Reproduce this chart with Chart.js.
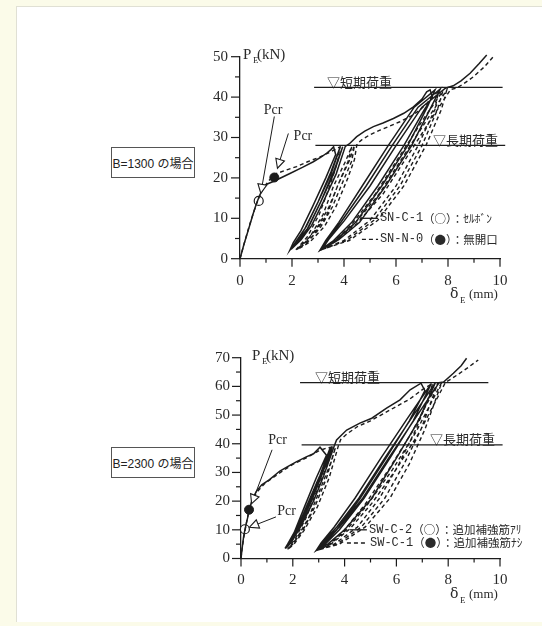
<!DOCTYPE html>
<html><head><meta charset="utf-8">
<script src="https://cdn.jsdelivr.net/npm/chart.js@4.4.1/dist/chart.umd.min.js"></script>
<style>
html,body{margin:0;padding:0;background:#fbfbe9;}
#wrap{position:relative;width:542px;height:626px;overflow:hidden;}
#panel{position:absolute;left:16px;top:6px;width:526px;height:615px;background:#fff;border-left:1px solid #e0e0d4;border-top:1px solid #e0e0d4;}
canvas{position:absolute;left:0;top:0;}
.tag{position:absolute;border:1px solid #555;background:#fff;font:12px "Liberation Sans","Noto Sans CJK JP",sans-serif;color:#222;display:flex;align-items:center;justify-content:center;box-sizing:border-box;white-space:nowrap;}
</style></head><body>
<div id="wrap"><div id="panel"></div>
<div class="tag" style="left:111px;top:147px;width:84px;height:31px;">B=1300 の場合</div>
<div class="tag" style="left:111px;top:447px;width:84px;height:31px;">B=2300 の場合</div>
<canvas id="c1" width="542" height="626"></canvas>
<canvas id="c2" width="542" height="626"></canvas>
</div>
<script>
// ---------- data ----------
const xTicks = [0,1,2,3,4,5,6,7,8,9,10];
const xLabels = ['0','','2','','4','','6','','8','','10'];
const yTicksTop = [0,5,10,15,20,25,30,35,40,45,50];
const yTicksBot = [0,5,10,15,20,25,30,35,40,45,50,55,60,65,70];

// B=1300 : SN-C-1 (solid, ○ セルボン) / SN-N-0 (dashed, ● 無開口)
const snc1 = [[0,0],[0.15,3.5],[0.32,7.1],[0.5,11],[0.64,13.8],[0.78,16],[0.9,17.6],[1.05,18.5],[1.28,19.1],[1.6,20.1],[1.92,21.1],[2.4,22.6],[2.82,24],[3.1,25.1],[3.33,26.1],[3.5,27],[3.6,27.7],[3.68,25.8],
[3.3,20],[2.8,13],[2.35,7],[2.05,4],[1.92,2.15],
[2.2,4.5],[2.55,8],[3.0,14],[3.5,21],[3.85,27.6],
[3.5,21.5],[3.0,14],[2.5,7.5],[2.15,4.2],[1.95,2.3],
[2.3,4.6],[2.65,8],[3.1,14],[3.6,21],[3.95,27.7],
[3.6,21.5],[3.1,14],[2.6,7.5],[2.2,4.3],[1.98,2.4],
[2.35,4.7],[2.75,8.2],[3.2,14],[3.7,21],[4.05,27.8],
[4.2,28.4],[4.49,30.2],[4.8,31.6],[5.13,32.7],[5.5,33.6],[5.9,34.7],[6.3,36],[6.67,37.6],[7.0,39.5],[7.18,41.3],[7.31,41.8],[7.4,39.9],
[7.1,37],[6.3,28],[5.3,18],[4.3,9],[3.6,4.5],[3.08,2.15],
[3.3,4.5],[3.8,9],[4.7,18],[5.7,28],[6.7,37.5],[7.5,41.8],
[7.2,37.5],[6.45,28],[5.45,18],[4.45,9],[3.7,4.6],[3.12,2.3],
[3.35,4.6],[3.9,9.2],[4.85,18],[5.85,28],[6.85,37.5],[7.7,42],
[7.35,37.5],[6.6,28],[5.6,18],[4.6,9],[3.8,4.7],[3.16,2.4],
[3.4,4.7],[4.0,9.3],[5.0,18],[6.0,28],[7.0,37.5],[7.9,42.2],
[8.2,42.8],[8.5,44],[8.85,45.9],[9.2,48.3],[9.49,50.4]];
const snn0 = [[0,0],[0.15,3.5],[0.35,8],[0.55,12],[0.75,15.5],[0.95,18],[1.15,19.6],[1.41,21.1],[1.8,22],[2.18,22.8],[2.6,24],[3.08,25.2],[3.5,26.5],[3.85,27.7],
[3.75,24],[3.45,18],[3.05,11],[2.6,5.5],[2.15,2.2],
[2.5,4],[2.95,7.5],[3.4,12.5],[3.85,19.5],[4.15,24],[4.3,27.8],
[4.05,24],[3.6,18],[3.2,11],[2.7,5.5],[2.2,2.3],
[2.6,4.1],[3.1,7.8],[3.55,12.8],[4.0,19.7],[4.3,24.2],[4.4,28],
[4.2,24.2],[3.75,18],[3.35,11],[2.8,5.6],[2.25,2.4],
[2.7,4.2],[3.25,8],[3.7,13],[4.15,20],[4.4,24.5],[4.5,28.4],
[4.68,29.4],[5.0,30.7],[5.38,31.8],[5.75,32.8],[6.15,33.9],[6.55,35.2],[6.92,36.8],[7.2,38.5],[7.44,40.5],[7.63,41.3],
[7.5,37],[6.85,28],[6.0,18],[5.0,9.5],[4.0,4.5],[3.2,2.4],
[3.6,4.2],[4.3,8.5],[5.2,16],[6.2,26],[7.1,35],[7.8,41.5],
[7.6,37],[7.0,28],[6.15,18],[5.15,9.5],[4.1,4.5],[3.25,2.5],
[3.65,4.3],[4.4,8.6],[5.35,16],[6.35,26],[7.25,35],[7.95,41.7],
[7.75,37],[7.15,28],[6.3,18],[5.3,9.5],[4.2,4.5],[3.3,2.6],
[3.7,4.4],[4.5,8.7],[5.5,16],[6.5,26],[7.4,35],[8.1,41.9],
[8.33,42.2],[8.6,43.3],[8.97,45],[9.4,47.5],[9.74,50]];
const topOpen = [[0.72,14.3]];
const topFilled = [[1.32,20.1]];

// B=2300 : SW-C-2 (solid, ○) / SW-C-1 (dashed, ●)
const swc2 = [[0,0],[0.05,4],[0.1,7.5],[0.15,10],[0.25,14],[0.35,18],[0.45,21],[0.6,23.5],[0.8,25.7],[1.1,27.5],[1.5,30.5],[1.8,32],[2.15,33.8],[2.54,35.5],[2.8,36.5],[3.05,38.8],[3.3,36],
[2.9,28],[2.45,18],[2.05,9],[1.8,5],[1.7,3.5],
[1.85,5.5],[2.2,11],[2.65,20],[3.05,29],[3.45,38.8],
[3.35,35],[2.95,27],[2.5,17.5],[2.1,9],[1.85,5],[1.72,3.6],
[1.9,5.6],[2.25,11],[2.72,20],[3.12,29],[3.52,39],
[3.4,35],[3.0,27],[2.55,17.5],[2.15,9],[1.88,5],[1.75,3.7],
[1.95,5.7],[2.3,11],[2.8,20],[3.2,29],[3.6,39.2],
[3.69,41.3],[4.08,44.8],[4.59,47.2],[5.05,48.9],[5.62,52.4],[6.14,55.3],[6.53,58.8],[6.95,61.1],[7.1,58.5],
[6.5,48],[5.6,35],[4.6,21],[3.7,10],[3.2,5],[2.92,3],
[3.1,5.5],[3.6,11],[4.4,21],[5.4,35],[6.4,48.5],[7.35,61],
[6.65,48],[5.75,35],[4.75,21],[3.8,10],[3.25,5],[2.95,3.1],
[3.15,5.6],[3.7,11],[4.55,21],[5.55,35],[6.55,48.5],[7.5,61.2],
[6.85,48],[6.0,35],[5.05,21],[4.0,10],[3.35,5],[2.98,3.2],
[3.2,5.7],[3.8,11],[4.7,21],[5.7,35],[6.7,48.5],[7.65,61.3],
[7.82,61.5],[8.2,64.6],[8.5,67.2],[8.71,69.8]];
const swc1 = [[0,0],[0.05,4],[0.12,8],[0.2,12],[0.31,17],[0.45,20.5],[0.6,23],[0.9,26],[1.2,28],[1.6,30.5],[2.0,32.8],[2.5,35],[3.0,37.5],[3.3,38.5],[3.5,38.8],
[3.35,33],[2.95,24],[2.5,14],[2.1,7],[1.8,3.2],
[2.0,5],[2.4,10],[2.85,18],[3.3,28],[3.65,38.8],
[3.45,33],[3.05,24],[2.6,14],[2.15,7],[1.82,3.3],
[2.05,5],[2.45,10],[2.95,18],[3.4,28],[3.75,39],
[3.85,41.5],[4.1,43.5],[4.5,46],[5.0,48],[5.5,50.5],[6.0,53],[6.5,55.5],[6.8,57.5],[7.1,59.5],[7.4,61],
[7.2,55],[6.75,45],[6.1,33],[5.35,21],[4.5,11],[3.6,5],[3.0,3],
[3.4,5],[4.0,10],[4.8,19],[5.7,31],[6.6,44],[7.6,61.2],
[7.35,55],[6.95,45],[6.3,33],[5.55,21],[4.65,11],[3.7,5],[3.03,3.1],
[3.45,5.1],[4.1,10.2],[4.9,19],[5.85,31],[6.75,44],[7.75,61.4],
[7.5,55],[7.1,45],[6.5,33],[5.75,21],[4.8,11],[3.8,5],[3.06,3.2],
[3.5,5.2],[4.2,10.3],[5.05,19.2],[6.0,31.2],[6.9,44.2],[7.9,61.5],
[8.1,62.5],[8.4,64.3],[8.8,66.8],[9.16,69.2]];
const botOpen = [[0.15,10.2]];
const botFilled = [[0.31,17]];

// reference load levels  [y, xFrom, xTo, labelX, text]
const topLevels = [[42.4,2.85,10.1,3.35,'▽短期荷重'],[28.07,2.9,10.2,7.42,'▽長期荷重']];
const botLevels = [[61.3,2.28,9.55,2.86,'▽短期荷重'],[39.6,2.34,10.1,7.3,'▽長期荷重']];
// Pcr callouts [labelX, labelY, lineFromX, lineFromY, tipX, tipY]
const topPcr = [[1.27,36.8,1.32,35.2,0.8,16.2],[2.42,30.4,1.86,31,1.44,22.4]];
const botPcr = [[1.41,41.3,1.2,37.9,0.41,19.1],[1.76,16.3,1.35,14.5,0.33,10.9]];
// legend rows [sampleX0, sampleX1, y, textX, dashed, specimen, description]
const topLegend = [[4.62,5.31,10,5.38,false,'SN-C-1','（○）：ｾﾙﾎﾞﾝ'],[4.69,5.31,4.8,5.38,true,'SN-N-0','（●）：無開口']];
const botLegend = [[4.21,4.86,10,4.94,false,'SW-C-2','（○）：追加補強筋ｱﾘ'],[4.09,4.79,5.4,4.98,true,'SW-C-1','（●）：追加補強筋ﾅｼ']];

// ---------- drawing ----------
const INK = '#1c1c1c';
const TXT = '#2a2a2a';
const pts = a => a.map(p => ({x:p[0], y:p[1]}));

function makeDecor(cfg){
  return {
    id:'decor',
    afterDraw(chart){
      const {ctx, chartArea:a, scales:{x, y}} = chart;
      const X = v => x.getPixelForValue(v), Y = v => y.getPixelForValue(v);
      ctx.save();
      ctx.strokeStyle = INK; ctx.lineWidth = 1.2; ctx.setLineDash([]);
      const ln = (x0,y0,x1,y1) => {ctx.beginPath();ctx.moveTo(x0,y0);ctx.lineTo(x1,y1);ctx.stroke();};
      // tick marks
      x.ticks.forEach(t => { const L = t.value % 2 === 0 ? 8 : 4; ln(X(t.value), a.bottom, X(t.value), a.bottom + L); });
      y.ticks.forEach(t => { const L = t.value % 10 === 0 ? 9 : 5; ln(a.left - L, Y(t.value), a.left, Y(t.value)); });
      // load levels
      ctx.fillStyle = TXT;
      ctx.font = '13px "Noto Sans CJK JP"';
      ctx.textBaseline = 'bottom'; ctx.textAlign = 'left';
      cfg.levels.forEach(l => {
        ln(X(l[1]), Y(l[0]), X(l[2]), Y(l[0]));
        ctx.fillText(l[4], X(l[3]), Y(l[0]) + 1);
      });
      // Pcr callouts
      ctx.font = '14px "Liberation Serif"';
      ctx.textAlign = 'center'; ctx.textBaseline = 'middle';
      cfg.pcr.forEach(c => {
        ctx.fillText('Pcr', X(c[0]), Y(c[1]));
        const x0 = X(c[2]), y0 = Y(c[3]), x1 = X(c[4]), y1 = Y(c[5]);
        const dx = x1 - x0, dy = y1 - y0, d = Math.hypot(dx, dy), ux = dx/d, uy = dy/d;
        const bx = x1 - ux*9, by = y1 - uy*9;
        ctx.lineWidth = 1;
        ln(x0, y0, bx, by);
        ctx.beginPath();
        ctx.moveTo(x1, y1);
        ctx.lineTo(bx - uy*4.5, by + ux*4.5);
        ctx.lineTo(bx + uy*4.5, by - ux*4.5);
        ctx.closePath();
        ctx.fillStyle = '#fff'; ctx.fill();
        ctx.strokeStyle = INK; ctx.lineWidth = 1.1; ctx.stroke();
        ctx.fillStyle = TXT;
      });
      // legend
      ctx.save();
      ctx.beginPath(); ctx.rect(0, 0, a.right + 24, chart.height); ctx.clip();
      ctx.textAlign = 'left'; ctx.textBaseline = 'middle';
      cfg.legend.forEach(r => {
        ctx.lineWidth = 1.3;
        ctx.setLineDash(r[4] ? [4,3] : []);
        ln(X(r[0]), Y(r[2]), X(r[1]), Y(r[2]));
        ctx.setLineDash([]);
        ctx.font = '12px "Liberation Mono"';
        ctx.fillText(r[5], X(r[3]), Y(r[2]));
        const w = ctx.measureText(r[5]).width;
        ctx.font = '11.5px "Noto Sans CJK JP"';
        ctx.fillText(r[6], X(r[3]) + w, Y(r[2]));
      });
      ctx.restore();
      // axis titles
      ctx.textAlign = 'left'; ctx.textBaseline = 'alphabetic';
      const L = a.left + cfg.pOff;
      ctx.font = '15px "Liberation Serif"';
      ctx.fillText('P', L, a.top + 2);
      ctx.fillText('(kN)', L + 14, a.top + 2);
      ctx.font = '9px "Liberation Serif"';
      ctx.fillText('E', L + 10, a.top + 6);
      const R = a.right;
      ctx.font = '14px "DejaVu Serif"';
      ctx.fillText('δ', R - 50, a.bottom + 39);
      ctx.font = '9px "Liberation Serif"';
      ctx.fillText('E', R - 40, a.bottom + 44);
      ctx.font = '13px "Liberation Serif"';
      ctx.fillText('(mm)', R - 31, a.bottom + 39);
      ctx.restore();
    }
  };
}

function makeChart(id, cfg){
  return new Chart(document.getElementById(id), {
    type:'scatter',
    data:{datasets:[
      {data:pts(cfg.solid), showLine:true, borderColor:INK, borderWidth:1.5, pointRadius:0, clip:false},
      {data:pts(cfg.dashed), showLine:true, borderColor:INK, borderWidth:1.4, borderDash:[4,3], pointRadius:0, clip:false},
      {data:pts(cfg.open), showLine:false, pointRadius:4.5, pointBackgroundColor:'#fff', pointBorderColor:INK, pointBorderWidth:1.2, clip:false},
      {data:pts(cfg.filled), showLine:false, pointRadius:4.5, pointBackgroundColor:INK, pointBorderColor:INK, pointBorderWidth:1, clip:false}
    ]},
    options:{
      responsive:false, animation:false, devicePixelRatio:1,
      events:[],
      layout:{padding:{left:0, right:cfg.padR, top:cfg.padT, bottom:cfg.padB}},
      plugins:{legend:{display:false}, tooltip:{enabled:false}},
      scales:{
        x:{type:'linear', min:0, max:10,
           afterBuildTicks:s => { s.ticks = xTicks.map(v => ({value:v})); },
           afterFit:s => { s.height = 40; },
           grid:{display:false, drawTicks:false},
           border:{display:true, color:INK, width:1.3},
           ticks:{autoSkip:false, maxRotation:0, padding:13, color:TXT,
                  font:{family:'Liberation Serif', size:15},
                  callback:(v, i) => xLabels[xTicks.indexOf(v)] ?? ''}},
        y:{type:'linear', min:0, max:cfg.yMax,
           afterBuildTicks:s => { s.ticks = cfg.yTicks.map(v => ({value:v})); },
           afterFit:s => { s.width = cfg.left; },
           grid:{display:false, drawTicks:false},
           border:{display:true, color:INK, width:1.3},
           ticks:{autoSkip:false, padding:cfg.yPad, color:TXT,
                  font:{family:'Liberation Serif', size:15},
                  callback:v => (v % 10 === 0 ? String(v) : '')}}
      }
    },
    plugins:[makeDecor(cfg)]
  });
}

makeChart('c1', {solid:snc1, dashed:snn0, open:topOpen, filled:topFilled, yMax:50, yTicks:yTicksTop,
  left:240, padR:42, padT:56.7, padB:626-258.7-40, yPad:12, pOff:3,
  levels:topLevels, pcr:topPcr, legend:topLegend});
makeChart('c2', {solid:swc2, dashed:swc1, open:botOpen, filled:botFilled, yMax:70, yTicks:yTicksBot,
  left:241, padR:42, padT:357.7, padB:626-558.5-40, yPad:11, pOff:11,
  levels:botLevels, pcr:botPcr, legend:botLegend});
</script>
</body></html>
